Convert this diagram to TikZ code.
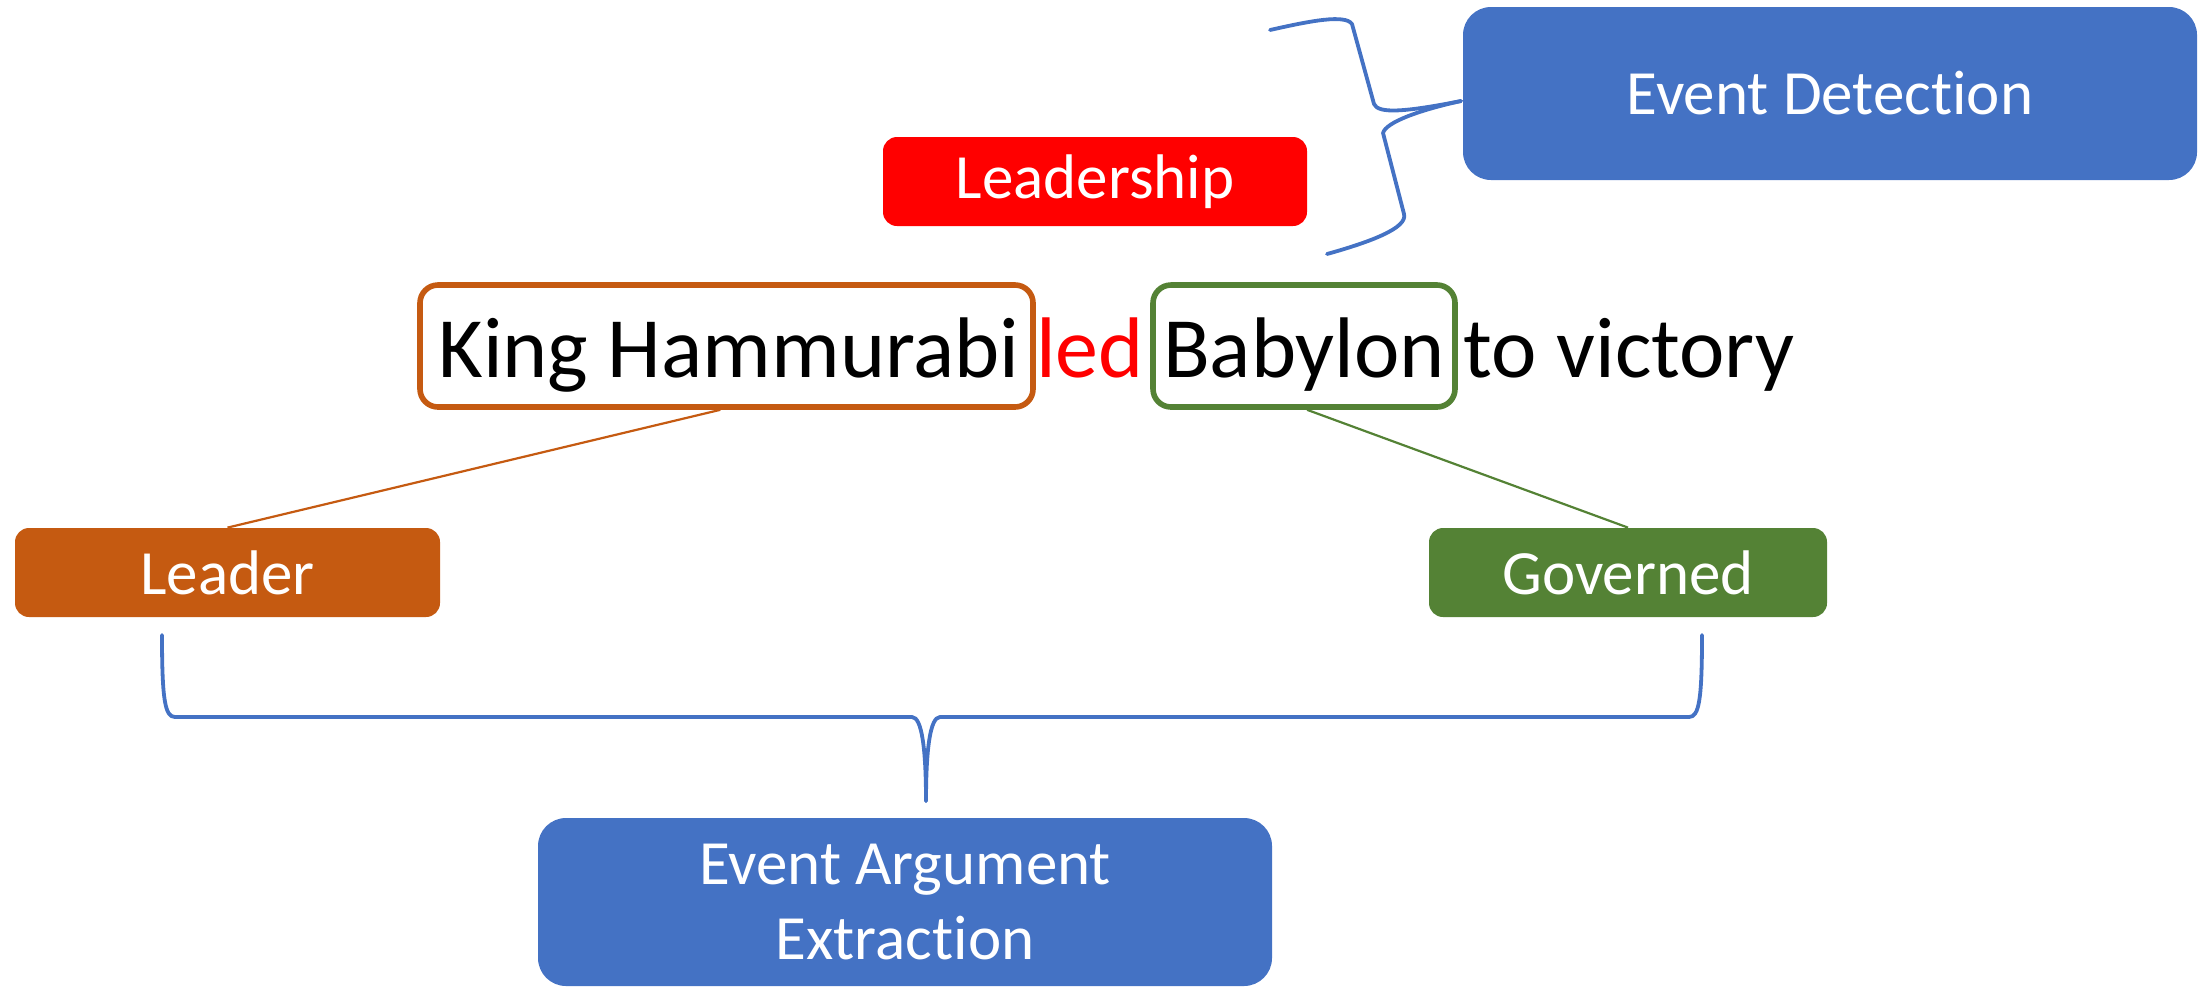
\documentclass[tikz,border=0pt]{standalone}
\usepackage{fontspec}
\setmainfont[Ligatures=NoCommon]{Carlito}
\usetikzlibrary{calc}
\definecolor{taskblue}{HTML}{4472C4}
\definecolor{trigred}{HTML}{FF0000}
\definecolor{roleorange}{HTML}{C55A11}
\definecolor{rolegreen}{HTML}{548235}
\begin{document}
\begin{tikzpicture}[x=0.5pt,y=-0.5pt,
  taskbox/.style={fill=taskblue, rounded corners=14pt, text=white, align=center,
    font=\fontsize{31.5}{37.5}\selectfont, inner sep=0pt},
  labelbox/.style={fill=#1, rounded corners=7pt, text=white,
    font=\fontsize{31.5}{37.5}\selectfont, inner sep=0pt, minimum height=44.5pt},
  spanbox/.style={draw=#1, line width=2.8pt, rounded corners=9pt, inner sep=0pt,
    minimum height=61pt},
  word/.style={anchor=base, inner sep=0pt, font=\fontsize{43}{50}\selectfont},
  link/.style={line width=1.1pt},
  bracket/.style={draw=taskblue, line width=1.9pt, line cap=round, line join=round}]
\useasboundingbox (0,0) rectangle (2204,987);

% task boxes
\node[taskbox, minimum width=367pt, minimum height=86.5pt] (ed) at (1830,93.5) {Event Detection};
\node[taskbox, minimum width=367pt, minimum height=84pt] (eae) at (905,902) {Event Argument\\Extraction};

% trigger type and role labels
\node[labelbox=trigred, minimum width=212pt] (lead) at (1095,181.5) {Leadership};
\node[labelbox=roleorange, minimum width=212.5pt] (leader) at (227.5,572.5) {Leader};
\node[labelbox=rolegreen, minimum width=199pt] (gov) at (1628,572.5) {Governed};

% sentence with argument spans
\node[spanbox=roleorange, minimum width=306.5pt] (kh) at (726.5,346) {};
\node[spanbox=rolegreen, minimum width=151pt] (bab) at (1304,346) {};
\node[word] (khtext) at (729,377) {King Hammurabi};
\node[word, text=trigred] (led) at (1090,377) {led};
\node[word] (babtext) at (1304,377) {Babylon};
\node[word] (rest) at (1629,377) {to victory};

% span to role links
\draw[link, roleorange] ($(kh.south west)!0.49!(kh.south east)$) -- (leader.north);
\draw[link, rolegreen] ($(bab.south west)!0.51!(bab.south east)$) -- (gov.north);

% brace grouping the trigger and its type
\coordinate (tipA) at (1461,101);
\draw[bracket] (1270,30) .. controls (1310,21) and (1345,14) .. (1352,24)
  -- (1374,104) .. controls (1378,114) and (1405,112) .. (tipA);
\draw[bracket] (tipA) .. controls (1420,110) and (1386,122) .. (1383,133)
  -- (1404,214) .. controls (1408,228) and (1370,242) .. (1327,254);

% brace grouping the argument roles
\coordinate (tipB) at (926,801);
\draw[bracket] (162,635) .. controls (162,700) and (165,717) .. (175,717)
  -- (912,717) .. controls (922,717) and (926,750) .. (tipB);
\draw[bracket] (tipB) .. controls (926,750) and (930,717) .. (940,717)
  -- (1689,717) .. controls (1699,717) and (1702,700) .. (1702,635);
\end{tikzpicture}
\end{document}
